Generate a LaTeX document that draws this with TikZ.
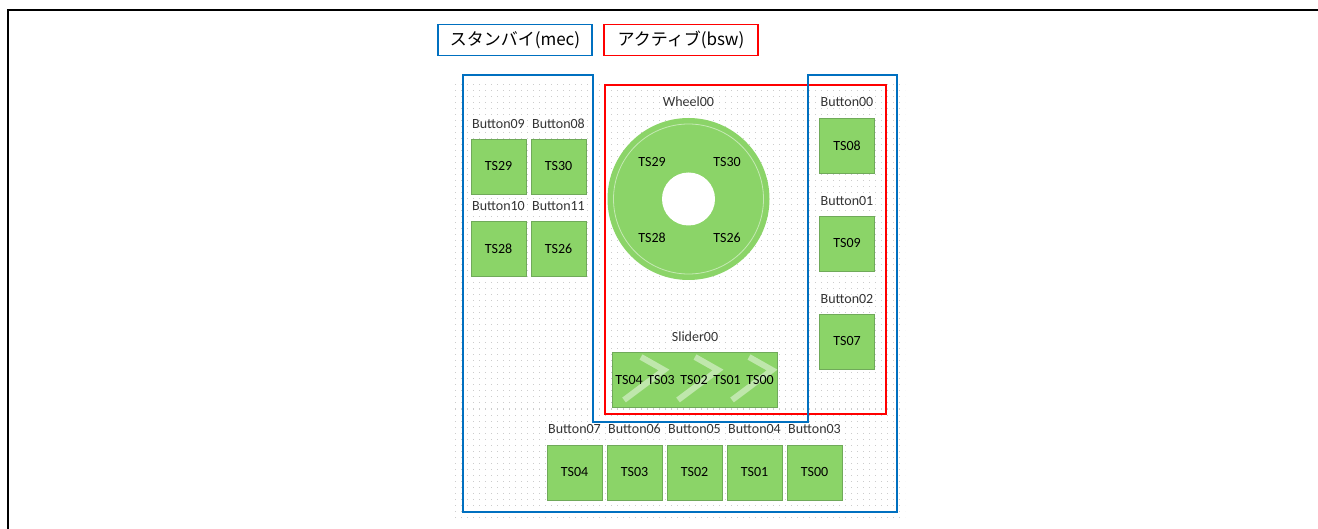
\documentclass[tikz,border=0pt]{standalone}
\usepackage{fontspec}
\setmainfont{Carlito}
\newfontfamily\jpfont{Noto Sans CJK JP}
\definecolor{padgreen}{RGB}{139,212,104}
\definecolor{padedge}{RGB}{112,170,90}
\definecolor{mecblue}{RGB}{0,112,192}
\definecolor{bswred}{RGB}{255,0,0}
\begin{document}
\begin{tikzpicture}[x=1pt, y=-1pt,
    pad/.style = {draw=padedge, fill=padgreen, minimum size=55pt, inner sep=0pt, font=\fontsize{14}{16}\selectfont},
    lbl/.style = {inner sep=0pt, text=black!80, font=\fontsize{14}{16}\selectfont},
    legend/.style = {draw, line width=1.6pt, minimum width=154pt, minimum height=31pt, font=\jpfont\fontsize{17}{20}\selectfont}]

    \useasboundingbox (0,0) rectangle (1318,529);

    % frame
    \draw[line width=2pt] (8,529) -- (8,10) -- (1318,10);

    % dotted grid
    \foreach \y in {85,91,...,519}
        \draw[gray!40, line width=1pt, dash pattern=on 1pt off 5pt] (455,\y) -- (905,\y);

    % legend
    \node[legend, draw=mecblue] (mec) at (515,40) {スタンバイ(mec)};
    \node[legend, draw=bswred] (bsw) at (681,40) {アクティブ(bsw)};

    % left buttons
    \node[lbl] (b09) at (498.5,124) {Button09};
    \node[lbl] (b08) at (558.5,124) {Button08};
    \node[pad] (p29) at (498.5,166.5) {TS29};
    \node[pad] (p30) at (558.5,166.5) {TS30};
    \node[lbl] (b10) at (498.5,206) {Button10};
    \node[lbl] (b11) at (558.5,206) {Button11};
    \node[pad] (p28) at (498.5,249) {TS28};
    \node[pad] (p26) at (558.5,249) {TS26};

    % wheel
    \node[lbl] (w00) at (688.5,102) {Wheel00};
    \node[circle, fill=padgreen, minimum size=162pt, inner sep=0pt] (wheel) at (688.5,199) {};
    \draw[white, opacity=.5, line width=.8pt] (wheel.center) circle[radius=75pt];
    \node[circle, fill=white, minimum size=53pt, inner sep=0pt] (hole) at (wheel.center) {};
    \node[lbl, text=black] (w29) at (652,162) {TS29};
    \node[lbl, text=black] (w30) at (727,162) {TS30};
    \node[lbl, text=black] (w28) at (652,238) {TS28};
    \node[lbl, text=black] (w26) at (727,238) {TS26};

    % slider
    \node[lbl] (s00) at (695,337) {Slider00};
    \node[draw=padedge, fill=padgreen, minimum width=165pt, minimum height=55pt, inner sep=0pt] (slider) at (695,379.5) {};
    \begin{scope}
        \clip (slider.south west) rectangle (slider.north east);
        \foreach \dx in {0,54,108}
            \draw[white, opacity=.45, line width=6pt] (641+\dx,357) -- (664+\dx,370) -- (624+\dx,400);
    \end{scope}
    \node[lbl, text=black] (s04) at (629,380) {TS04};
    \node[lbl, text=black] (s03) at (661,380) {TS03};
    \node[lbl, text=black] (s02) at (694,380) {TS02};
    \node[lbl, text=black] (s01) at (727,380) {TS01};
    \node[lbl, text=black] (s00t) at (760,380) {TS00};

    % right buttons
    \node[lbl] (b00) at (847,102) {Button00};
    \node[pad] (p08) at (847,145.5) {TS08};
    \node[lbl] (b01) at (847,201) {Button01};
    \node[pad] (p09) at (847,243.5) {TS09};
    \node[lbl] (b02) at (847,299) {Button02};
    \node[pad] (p07) at (847,341.5) {TS07};

    % bottom buttons
    \node[lbl] (b07) at (574.5,429) {Button07};
    \node[lbl] (b06) at (634.5,429) {Button06};
    \node[lbl] (b05) at (694.5,429) {Button05};
    \node[lbl] (b04) at (754.5,429) {Button04};
    \node[lbl] (b03) at (814.5,429) {Button03};
    \node[pad] (p04) at (574.5,472.5) {TS04};
    \node[pad] (p03) at (634.5,472.5) {TS03};
    \node[pad] (p02) at (694.5,472.5) {TS02};
    \node[pad] (p01) at (754.5,472.5) {TS01};
    \node[pad] (p00) at (814.5,472.5) {TS00};

    % groups
    \draw[bswred, line width=1.6pt] (605,85) rectangle (886,414);
    \draw[mecblue, line width=1.6pt] (463,75) -- (593,75) -- (593,422) -- (808,422)
        -- (808,75) -- (897,75) -- (897,512) -- (463,512) -- cycle;

\end{tikzpicture}
\end{document}
